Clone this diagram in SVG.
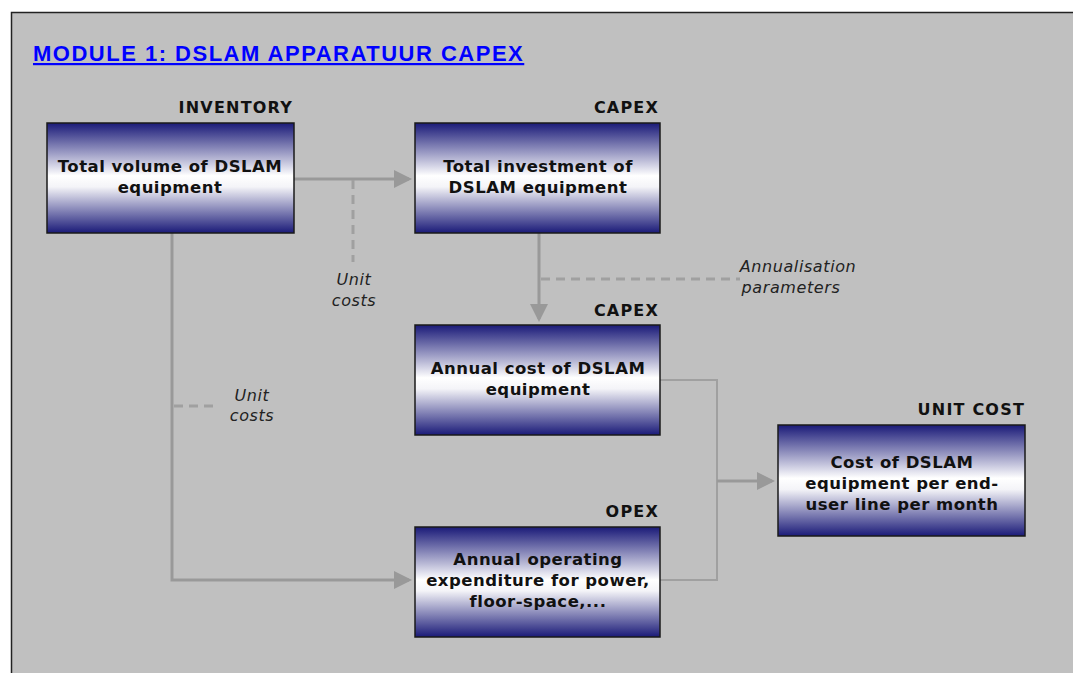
<svg xmlns="http://www.w3.org/2000/svg" width="1073" height="673" viewBox="0 0 1073 673">
  <defs>
    <linearGradient id="boxFill" x1="0" y1="0" x2="0" y2="1">
      <stop offset="0" stop-color="#1a1a78"/>
      <stop offset="0.48" stop-color="#ffffff"/>
      <stop offset="0.58" stop-color="#f4f4f8"/>
      <stop offset="1" stop-color="#1a1a78"/>
    </linearGradient>
    <marker id="arrow" markerWidth="6" markerHeight="6" refX="5" refY="3" orient="auto" markerUnits="strokeWidth">
      <path d="M0,0 L6,3 L0,6 Z" fill="#999999"/>
    </marker>
  </defs>
  <style>
    .box { fill: url(#boxFill); stroke: #1a1a1a; stroke-width: 1.5; }
    .txt { font-family: "DejaVu Sans", Verdana, sans-serif; font-weight: bold; font-size: 16.5px; letter-spacing: 0.5px; fill: #111111; text-anchor: middle; }
    .head { font-family: "DejaVu Sans", Verdana, sans-serif; font-weight: bold; font-size: 16px; letter-spacing: 1.2px; fill: #111111; text-anchor: end; }
    .note { font-family: "DejaVu Sans", Verdana, sans-serif; font-style: italic; font-size: 16px; letter-spacing: 0.6px; fill: #222222; text-anchor: middle; }
    .flow { fill: none; stroke: #999999; stroke-width: 3; }
    .join { fill: none; stroke: #a0a0a0; stroke-width: 2; }
    .dash { fill: none; stroke: #a0a0a0; stroke-width: 3; stroke-dasharray: 9 6; }
  </style>

  <rect x="0" y="0" width="1073" height="673" fill="#ffffff"/>
  <rect x="11.5" y="12.5" width="1070" height="670" fill="#c0c0c0" stroke="#222222" stroke-width="1.5"/>

  <text x="33" y="61" font-family="Liberation Sans, Arial, sans-serif" font-weight="bold" font-size="22" letter-spacing="1.5" fill="#0000ff" text-decoration="underline">MODULE 1: DSLAM APPARATUUR CAPEX</text>

  <g id="connectors">
    <path class="flow" d="M294,179 H409" marker-end="url(#arrow)"/>
    <path class="dash" d="M353,180 V262"/>
    <path class="flow" d="M539,233 V319" marker-end="url(#arrow)"/>
    <path class="dash" d="M541,279 H740"/>
    <path class="flow" d="M172,233 V580 H409" marker-end="url(#arrow)"/>
    <path class="dash" d="M174,406 H214"/>
    <path class="join" d="M660,380 H717 V580 H660"/>
    <path class="flow" d="M717,481 H772" marker-end="url(#arrow)"/>
    <text class="note" x="354" y="285">Unit</text>
    <text class="note" x="354" y="306">costs</text>
    <text class="note" x="798" y="272">Annualisation</text>
    <text class="note" x="791" y="293">parameters</text>
    <text class="note" x="252" y="401">Unit</text>
    <text class="note" x="252" y="421">costs</text>
  </g>

  <g id="inventory">
    <text class="head" x="293" y="113">INVENTORY</text>
    <rect class="box" x="47" y="123" width="247" height="110"/>
    <text class="txt" x="170" y="172">Total volume of DSLAM</text>
    <text class="txt" x="170" y="193">equipment</text>
  </g>

  <g id="capex-investment">
    <text class="head" x="659" y="113">CAPEX</text>
    <rect class="box" x="415" y="123" width="245" height="110"/>
    <text class="txt" x="538" y="172">Total investment of</text>
    <text class="txt" x="538" y="193">DSLAM equipment</text>
  </g>

  <g id="capex-annual">
    <text class="head" x="659" y="316">CAPEX</text>
    <rect class="box" x="415" y="325" width="245" height="110"/>
    <text class="txt" x="538" y="374">Annual cost of DSLAM</text>
    <text class="txt" x="538" y="395">equipment</text>
  </g>

  <g id="unit-cost">
    <text class="head" x="1025" y="415">UNIT COST</text>
    <rect class="box" x="778" y="425" width="247" height="111"/>
    <text class="txt" x="902" y="468">Cost of DSLAM</text>
    <text class="txt" x="902" y="489">equipment per end-</text>
    <text class="txt" x="902" y="510">user line per month</text>
  </g>

  <g id="opex">
    <text class="head" x="659" y="517">OPEX</text>
    <rect class="box" x="415" y="527" width="245" height="110"/>
    <text class="txt" x="538" y="565">Annual operating</text>
    <text class="txt" x="538" y="586">expenditure for power,</text>
    <text class="txt" x="538" y="607">floor-space,...</text>
  </g>
</svg>
